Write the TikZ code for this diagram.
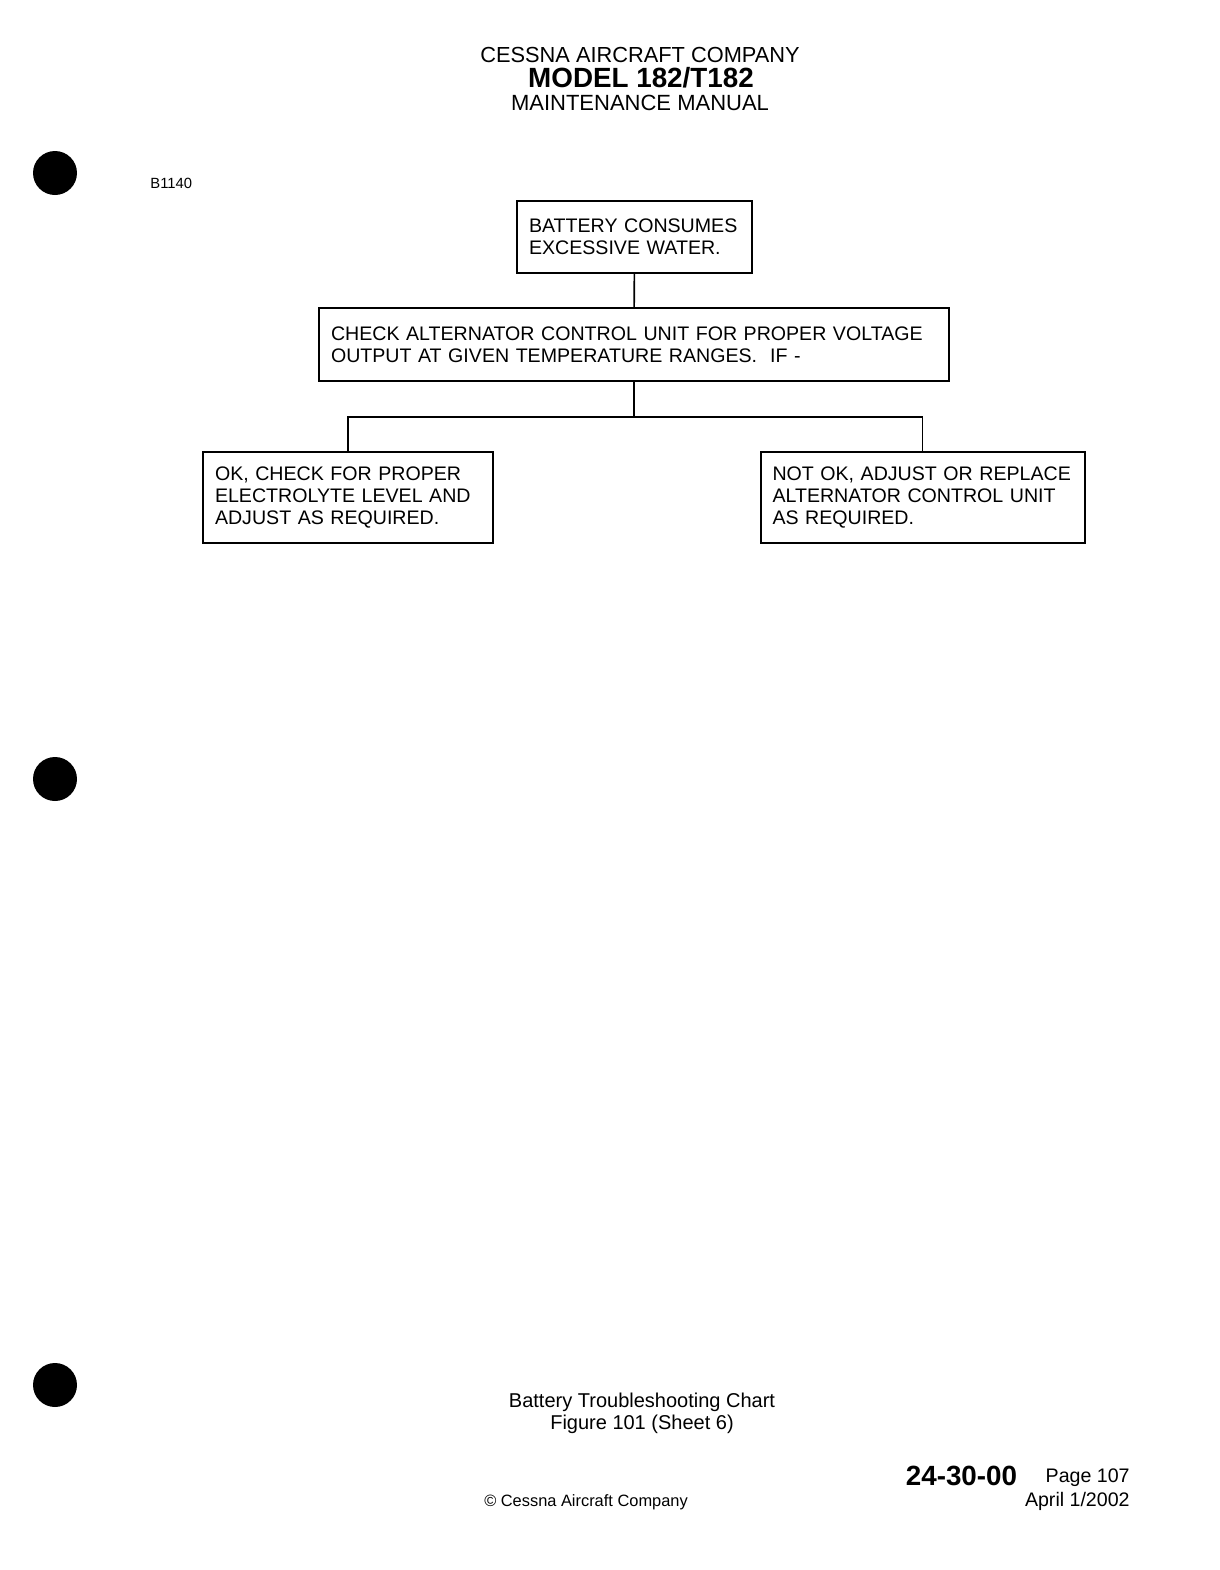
\documentclass[tikz,border=0pt]{standalone}
\usepackage{tikz}
\usepackage{fontspec}
\setmainfont{Liberation Sans}
\usetikzlibrary {positioning}

\tikzset{
  chartbox/.style={draw, line width=1pt, inner xsep=6pt, inner ysep=0pt, align=left,
    font=\fontsize{9.8}{11}\selectfont},
  link/.style={line width=0.8pt},
  hole/.style={fill=black}
}

\begin{document}
\begin{tikzpicture}[x=0.5pt,y=-0.5pt]
\useasboundingbox (0,0) rectangle (1220,1570);

\node[font=\fontsize{10.9}{12}\selectfont] (H1) at (640,55) {CESSNA AIRCRAFT COMPANY};

\node[font=\fontsize{13.9}{15}\selectfont\bfseries] (H2) at (641,78) {MODEL 182/T182};

\node[font=\fontsize{11}{12}\selectfont] (H3) at (640,103) {MAINTENANCE MANUAL};

\node[anchor=west, inner sep=0pt, font=\fontsize{7.4}{8}\selectfont] (FIG) at (150,183) {B1140};

\fill[hole] (55,173) circle (22);

\fill[hole] (55,779) circle (22);

\fill[hole] (55,1385) circle (22);

\node[chartbox, text width=105.5pt, minimum height=36pt] (top) at (634.5,237) {BATTERY CONSUMES\\EXCESSIVE WATER.};

\node[chartbox, text width=303pt, minimum height=36.5pt] (check) at (634,344.5) {CHECK ALTERNATOR CONTROL UNIT FOR PROPER VOLTAGE\\OUTPUT AT GIVEN TEMPERATURE RANGES.\ \ IF -};

\node[chartbox, text width=133pt, minimum height=45.5pt] (ok) at (348,497.5) {OK, CHECK FOR PROPER\\ELECTROLYTE LEVEL AND\\ADJUST AS REQUIRED.};

\node[chartbox, text width=150pt, minimum height=45.5pt] (notok) at (922.5,497.5) {NOT OK, ADJUST OR REPLACE\\ALTERNATOR CONTROL UNIT\\AS REQUIRED.};

\coordinate (J) at (634,417);

\draw[link] (top) -- (check);

\draw[link] (check) -- (J);

\draw[link] (J) -| (ok);

\draw[link] (J) -| (notok);

\node[align=center, font=\fontsize{10}{11}\selectfont] (CAP) at (642,1413) {Battery Troubleshooting Chart\\Figure 101 (Sheet 6)};

\node[font=\fontsize{8.2}{9}\selectfont] (COPY) at (586,1502) {\textcopyright{} Cessna Aircraft Company};

\node[font=\fontsize{13.9}{15}\selectfont\bfseries] (NUM) at (961.5,1476) {24-30-00};

\node[anchor=east, inner sep=0pt, font=\fontsize{9.8}{11}\selectfont] (PG) at (1130,1478) {Page 107};

\node[anchor=east, inner sep=0pt, font=\fontsize{9.8}{11}\selectfont] (DATE) at (1130,1501) {April 1/2002};
\end{tikzpicture}
\end{document}
